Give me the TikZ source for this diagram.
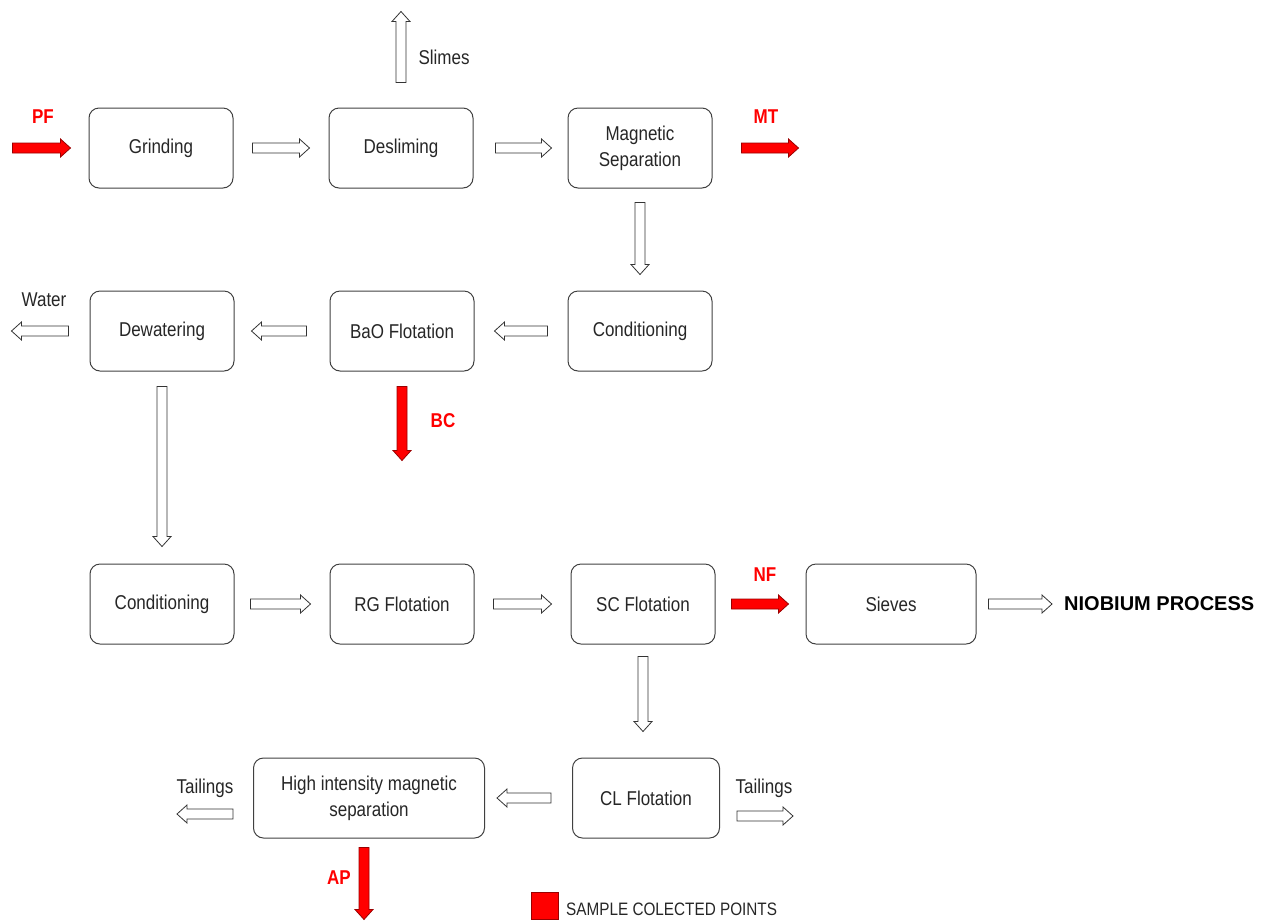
\documentclass[tikz,border=0pt]{standalone}
\usepackage{fontspec}
\setmainfont[FakeStretch=0.85]{Liberation Sans}
\newfontfamily\widesans{Liberation Sans}
\usetikzlibrary{calc}
\begin{document}
\begin{tikzpicture}[x=1pt,y=-1pt,
  box/.style={draw=black!75,line width=1pt,rounded corners=10pt,minimum width=144pt,minimum height=80pt,align=center,text=black!85,font=\fontsize{20}{26}\selectfont},
  lbl/.style={text=black!85,font=\fontsize{20}{24}\selectfont},
  smp/.style={text=red,font=\fontsize{20}{24}\selectfont\bfseries},
  blk/.style={draw=black!80,fill=white,line width=0.8pt,
    to path={let \p1=(\tikztostart),\p2=(\tikztotarget),\p3=($(\p2)!10pt!(\p1)$) in
      ($(\p1)!5pt!90:(\p2)$)--($(\p3)!5pt!90:(\p2)$)--($(\p3)!9pt!90:(\p2)$)--(\p2)
      --($(\p3)!9pt!-90:(\p2)$)--($(\p3)!5pt!-90:(\p2)$)--($(\p1)!5pt!-90:(\p2)$)--cycle}},
  redblk/.style={blk,fill=red,draw=red!60!black}]
\useasboundingbox (0,0) rectangle (1268,922);
% process boxes
\node[box] (grind) at (161,148) {Grinding};
\node[box] (desl) at (401,148) {Desliming};
\node[box] (magsep) at (640,148) {Magnetic\\Separation};
\node[box] (cond1) at (640,331) {Conditioning};
\node[box] (baoflot) at (402,331) {BaO Flotation};
\node[box] (dewat) at (162,331) {Dewatering};
\node[box] (cond2) at (162,604) {Conditioning};
\node[box] (rgflot) at (402,604) {RG Flotation};
\node[box] (scflot) at (643,604) {SC Flotation};
\node[box,minimum width=170pt] (sieves) at (891,604) {Sieves};
\node[box,minimum width=147pt] (clflot) at (646,798) {CL Flotation};
\node[box,minimum width=231pt] (hims) at (369,798) {High intensity magnetic\\separation};
% labels
\node[smp] (pf) at (43,117) {PF};
\node[smp] (mt) at (766,117) {MT};
\node[smp] (bc) at (443,421) {BC};
\node[smp] (nf) at (765,575) {NF};
\node[smp] (ap) at (339,878) {AP};
\node[lbl] (slimes) at (444,57) {Slimes};
\node[lbl] (water) at (44,300) {Water};
\node[lbl] (tailr) at (764,788) {Tailings};
\node[lbl] (taill) at (205,788) {Tailings};
\node[anchor=west,inner sep=0pt,font=\widesans\fontsize{20}{24}\selectfont\bfseries] (niob) at (1064,604) {NIOBIUM PROCESS};
% flow
\draw[redblk] ([xshift=-76pt]grind.west) to ([xshift=-18pt]grind.west);
\draw[blk] ([xshift=19pt]grind.east) to ([xshift=-19pt]desl.west);
\draw[blk] ([yshift=25pt]desl.north) to ([yshift=96pt]desl.north);
\draw[blk] ([xshift=22pt]desl.east) to ([xshift=-16pt]magsep.west);
\draw[redblk] ([xshift=29pt]magsep.east) to ([xshift=86pt]magsep.east);
\draw[blk] ([yshift=-14pt]magsep.south) to ([yshift=16pt]cond1.north);
\draw[blk] ([xshift=-20pt]cond1.west) to ([xshift=20pt]baoflot.east);
\draw[redblk] ([yshift=-15pt]baoflot.south) to ([yshift=-89pt]baoflot.south);
\draw[blk] ([xshift=-23pt]baoflot.west) to ([xshift=17pt]dewat.east);
\draw[blk] ([xshift=-21pt]dewat.west) to ([xshift=-78pt]dewat.west);
\draw[blk] ([yshift=-15pt]dewat.south) to ([yshift=17pt]cond2.north);
\draw[blk] ([xshift=16pt]cond2.east) to ([xshift=-19pt]rgflot.west);
\draw[blk] ([xshift=19pt]rgflot.east) to ([xshift=-19pt]scflot.west);
\draw[redblk] ([xshift=16pt]scflot.east) to ([xshift=-17pt]sieves.west);
\draw[blk] ([xshift=12pt]sieves.east) to ([xshift=-12pt]niob.west);
\draw[blk] ([yshift=-12pt]scflot.south) to ([yshift=26pt]scflot.south |- clflot.north);
\draw[blk] ([xshift=-21pt]clflot.west) to ([xshift=12pt]hims.east);
\draw[blk] ([shift={(17pt,-18pt)}]clflot.east) to ([shift={(73pt,-18pt)}]clflot.east);
\draw[blk] ([shift={(-20pt,-16pt)}]hims.west) to ([shift={(-76pt,-16pt)}]hims.west);
\draw[redblk] ([shift={(-5pt,-9pt)}]hims.south) to ([shift={(-5pt,-81pt)}]hims.south);
% legend
\node[fill=red,draw=red!60!black,minimum size=27pt,inner sep=0pt] (key) at (545,906) {};
\node[anchor=west,inner sep=0pt,text=black!85,font=\fontsize{18}{20}\selectfont] (keytxt) at (566,909) {SAMPLE COLECTED POINTS};
\end{tikzpicture}
\end{document}
